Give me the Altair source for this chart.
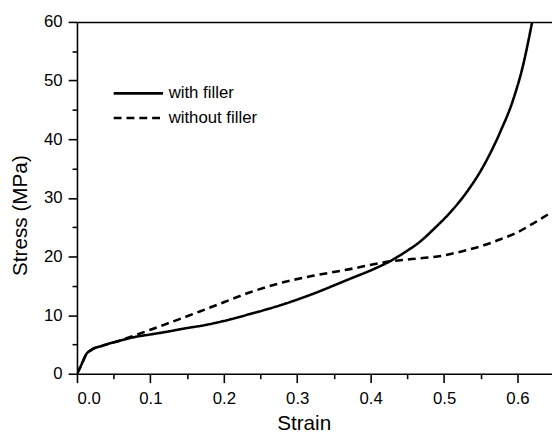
import altair as alt
import pandas as pd

# with filler (solid)
strain_with = [0, 0.004, 0.008, 0.012, 0.02, 0.035, 0.057, 0.08, 0.1, 0.124, 0.15, 0.17,
               0.2, 0.236, 0.28, 0.325, 0.37, 0.405, 0.428, 0.45, 0.464, 0.487, 0.509,
               0.531, 0.554, 0.576, 0.594, 0.607, 0.62]
stress_with = [0, 1.0, 2.1, 3.2, 4.1, 4.8, 5.6, 6.3, 6.7, 7.2, 7.8, 8.2,
               9.0, 10.2, 11.8, 13.8, 16.1, 17.9, 19.3, 21.0, 22.2, 24.8, 27.6,
               31.0, 35.5, 41.1, 46.7, 52.3, 60.0]

# without filler (dashed)
strain_without = [0, 0.004, 0.008, 0.012, 0.02, 0.035, 0.057, 0.08, 0.1, 0.124, 0.15, 0.169,
                  0.2, 0.236, 0.281, 0.3255, 0.37, 0.406, 0.428, 0.451, 0.496, 0.525,
                  0.554, 0.576, 0.598, 0.621, 0.647]
stress_without = [0, 1.0, 2.1, 3.2, 4.1, 4.8, 5.6, 6.6, 7.5, 8.6, 9.8, 10.7,
                  12.2, 13.9, 15.6, 16.8, 17.8, 18.7, 19.2, 19.5, 20.1, 20.9,
                  21.9, 22.9, 24.0, 25.6, 27.6]

series_names = ["with filler", "without filler"]
x_major = [0.0, 0.1, 0.2, 0.3, 0.4, 0.5, 0.6]
x_minor = [0.05, 0.15, 0.25, 0.35, 0.45, 0.55, 0.65]
y_major = [0, 10, 20, 30, 40, 50, 60]
y_minor = [5, 15, 25, 35, 45, 55]

rows = []
for s, v in zip(strain_with, stress_with):
    rows.append({"strain": s, "stress": v, "series": series_names[0], "order": s})
for s, v in zip(strain_without, stress_without):
    rows.append({"strain": s, "stress": v, "series": series_names[1], "order": s})
df = pd.DataFrame(rows)

xscale = alt.Scale(domain=[0, 0.647], nice=False, zero=False)
yscale = alt.Scale(domain=[0, 60], nice=False)

base = alt.Chart(df)

lines = base.mark_line(clip=True, strokeWidth=2.6, strokeCap="butt",
                       interpolate="monotone").encode(
    x=alt.X("strain:Q", scale=xscale,
            axis=alt.Axis(orient="bottom", values=x_major, format=".1f", tickSize=9,
                          title="Strain", titlePadding=7, titleX=230, labelPadding=8,
                          grid=False)),
    y=alt.Y("stress:Q", scale=yscale,
            axis=alt.Axis(orient="left", values=y_major, tickSize=9, title="Stress (MPa)",
                          titlePadding=13, titleY=196, labelPadding=6, grid=False)),
    strokeDash=alt.StrokeDash(
        "series:N",
        scale=alt.Scale(domain=series_names, range=[[1, 0], [8, 5]]),
        legend=alt.Legend(
            title=None, orient="none", legendX=35, legendY=64,
            symbolType="M-1,0H7", symbolSize=156.25, symbolStrokeWidth=2.6,
            symbolStrokeColor="black", labelFontSize=17, labelOffset=41,
            rowPadding=7,
        ),
    ),
    detail="series:N",
    order="order:Q",
    color=alt.value("black"),
)

minor = base.mark_line(opacity=0).encode(
    x=alt.X("strain:Q", scale=xscale,
            axis=alt.Axis(orient="bottom", values=x_minor, tickSize=5, labels=False,
                          title=None, domain=False, grid=False)),
    y=alt.Y("stress:Q", scale=yscale,
            axis=alt.Axis(orient="left", values=y_minor, tickSize=5, labels=False,
                          title=None, domain=False, grid=False)),
    detail="series:N",
)

top = base.mark_line(opacity=0).encode(
    x=alt.X("strain:Q", scale=xscale,
            axis=alt.Axis(orient="top", ticks=False, labels=False, title=None,
                          domain=True, grid=False)),
    y=alt.Y("stress:Q", scale=yscale, axis=None),
    detail="series:N",
)

chart = alt.layer(lines, minor, top).resolve_axis(x="independent", y="independent").properties(
    width=482, height=357,
    autosize=alt.AutoSizeParams(type="none"),
    padding={"left": 70, "top": 11, "right": 0, "bottom": 58},
).configure_view(stroke=None).configure_axis(
    labelFont="Liberation Sans", titleFont="Liberation Sans",
    labelFontSize=17, titleFontSize=21, titleFontWeight="normal",
    labelColor="black", titleColor="black",
    domainColor="black", tickColor="black", domainWidth=1.6, tickWidth=1.6,
).configure_legend(
    labelFont="Liberation Sans", labelColor="black",
)

chart.save("out.html", embed_options={"renderer": "svg", "actions": False})
